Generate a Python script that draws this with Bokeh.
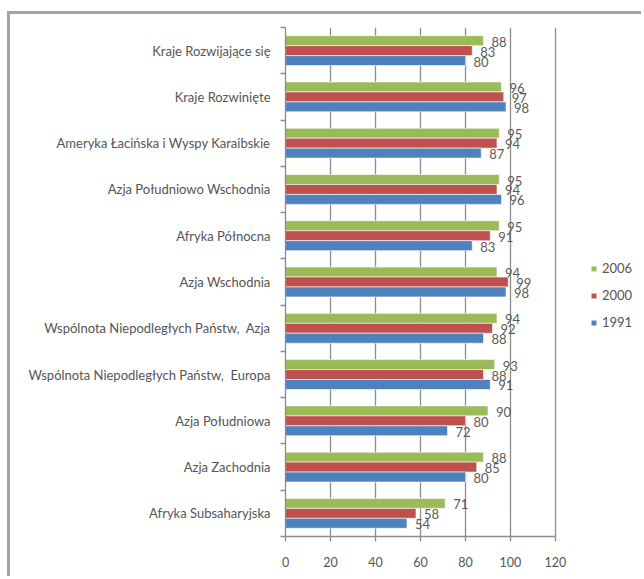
from bokeh.plotting import figure
from bokeh.models import Range1d, FixedTicker, Legend, LegendItem, ColumnDataSource
from bokeh.core.properties import value
from bokeh.embed import file_html
from bokeh.resources import INLINE

# categories listed top to bottom
categories = [
    "Kraje Rozwijające się",
    "Kraje Rozwinięte",
    "Ameryka Łacińska i Wyspy Karaibskie",
    "Azja Południowo Wschodnia",
    "Afryka Północna",
    "Azja Wschodnia",
    "Wspólnota Niepodległych Państw,\u00a0 Azja",
    "Wspólnota Niepodległych Państw,\u00a0 Europa",
    "Azja Południowa",
    "Azja Zachodnia",
    "Afryka Subsaharyjska",
]
v2006 = [88, 96, 95, 95, 95, 94, 94, 93, 90, 88, 71]
v2000 = [83, 97, 94, 94, 91, 99, 92, 88, 80, 85, 58]
v1991 = [80, 98, 87, 96, 83, 98, 88, 91, 72, 80, 54]
series_names = ["2006", "2000", "1991"]
series_colors = ["#9BBB59", "#C0504D", "#4F81BD"]
x_ticks = [0, 20, 40, 60, 80, 100, 120]

n = len(categories)
centers = [n - 1 - i + 0.5 for i in range(n)]
bar_h = 0.215
offsets = [bar_h, 0.0, -bar_h]

p = figure(
    width=634, height=565,
    margin=(11, 0, 0, 7),
    styles={"border-top": "3px solid #a3a3a3", "border-left": "3px solid #a3a3a3"},
    x_range=Range1d(0, 159.56), y_range=Range1d(0, n),
    output_backend="svg", toolbar_location=None,
    min_border_left=275, min_border_top=13, min_border_bottom=43, min_border_right=0,
)
p.outline_line_color = None
p.ygrid.grid_line_color = None
p.xgrid.grid_line_color = "#8c8c8c"
p.xgrid.grid_line_width = 1.3
p.xgrid.bounds = (0, 120)
p.xgrid.ticker = FixedTicker(ticks=x_ticks)

# x axis
p.xaxis.ticker = FixedTicker(ticks=x_ticks)
p.xaxis.bounds = (0, 120)
p.xaxis.axis_line_color = "#8c8c8c"
p.xaxis.axis_line_width = 1.3
p.xaxis.major_tick_line_color = "#8c8c8c"
p.xaxis.major_tick_line_width = 1.3
p.xaxis.major_tick_out = 5
p.xaxis.major_tick_in = 0
p.xaxis.minor_tick_line_color = None
p.xaxis.major_label_standoff = 15
p.xaxis.major_label_text_font = "Lato"
p.xaxis.major_label_text_font_size = "12.5px"
p.xaxis.major_label_text_color = "#555555"

# y axis: labels at category centres, ticks at boundaries
p.yaxis.ticker = FixedTicker(ticks=centers, minor_ticks=list(range(n + 1)))
p.yaxis.major_label_overrides = {c: categories[i] for i, c in enumerate(centers)}
p.yaxis.axis_line_color = "#8c8c8c"
p.yaxis.axis_line_width = 1.3
p.yaxis.major_tick_line_color = None
p.yaxis.major_tick_out = 0
p.yaxis.major_tick_in = 0
p.yaxis.minor_tick_line_color = "#8c8c8c"
p.yaxis.minor_tick_line_width = 1.3
p.yaxis.minor_tick_out = 5
p.yaxis.minor_tick_in = 0
p.yaxis.major_label_standoff = 10
p.yaxis.major_label_text_font = "Lato"
p.yaxis.major_label_text_font_size = "13px"
p.yaxis.major_label_text_color = "#555555"

items = []
for name, vals, col, off in zip(series_names, [v2006, v2000, v1991], series_colors, offsets):
    src = ColumnDataSource(dict(
        y=[c + off for c in centers], x=vals, lab=[str(v) for v in vals]))
    r = p.hbar(y="y", right="x", left=0, height=bar_h, source=src,
               fill_color=col, line_color="white", line_width=0.6)
    p.text(x="x", y="y", text="lab", source=src, x_offset=8, y_offset=1,
           text_align="left", text_baseline="middle",
           text_font=value("Lato"), text_font_size="13px", text_color="#5a5a5a")
    items.append(LegendItem(label=name, renderers=[r]))

legend = Legend(items=items, location=(305, 206), orientation="vertical",
                glyph_width=7, glyph_height=7, label_height=14, spacing=11,
                padding=0, margin=0, border_line_color=None,
                background_fill_alpha=0, label_text_font="Lato",
                label_text_font_size="13px", label_text_color="#555555",
                label_standoff=5)
p.add_layout(legend)

open("out.html", "w").write(file_html(p, INLINE))
